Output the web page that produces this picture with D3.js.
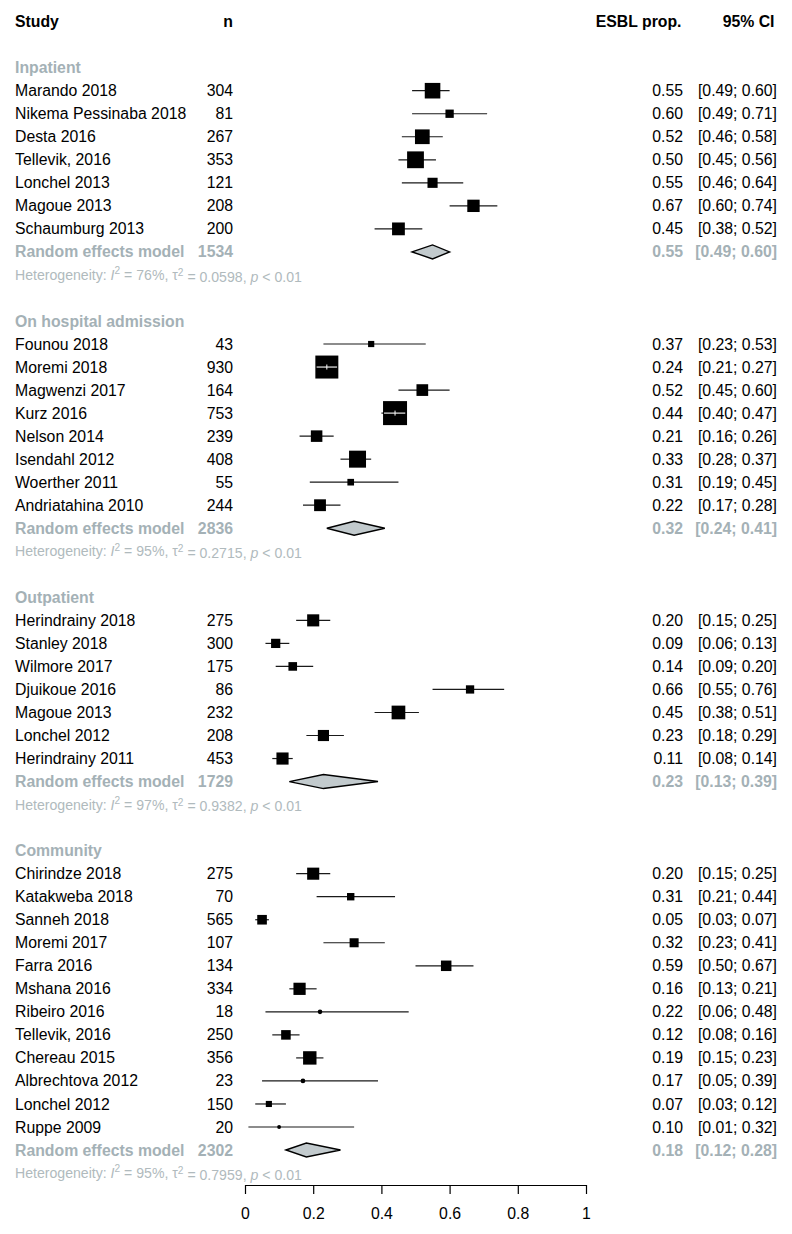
<!DOCTYPE html>
<html>
<head>
<meta charset="utf-8">
<script src="https://cdn.jsdelivr.net/npm/d3@7"></script>
<style>
  html, body { margin: 0; padding: 0; background: #fff; }
  svg { display: block; font-family: "Liberation Sans", Arial, Helvetica, sans-serif; }
</style>
</head>
<body>
<svg id="chart" width="792" height="1234"></svg>
<script>
// ---------------- DATA ----------------
const groups = ["Inpatient", "On hospital admission", "Outpatient", "Community"];

const studies = [
  "Marando 2018", "Nikema Pessinaba 2018", "Desta 2016", "Tellevik, 2016", "Lonchel 2013", "Magoue 2013", "Schaumburg 2013",
  "Founou 2018", "Moremi 2018", "Magwenzi 2017", "Kurz 2016", "Nelson 2014", "Isendahl 2012", "Woerther 2011", "Andriatahina 2010",
  "Herindrainy 2018", "Stanley 2018", "Wilmore 2017", "Djuikoue 2016", "Magoue 2013", "Lonchel 2012", "Herindrainy 2011",
  "Chirindze 2018", "Katakweba 2018", "Sanneh 2018", "Moremi 2017", "Farra 2016", "Mshana 2016", "Ribeiro 2016", "Tellevik, 2016", "Chereau 2015", "Albrechtova 2012", "Lonchel 2012", "Ruppe 2009"
];
const studyGroup = [
  0,0,0,0,0,0,0,
  1,1,1,1,1,1,1,1,
  2,2,2,2,2,2,2,
  3,3,3,3,3,3,3,3,3,3,3,3
];
const studyN = [
  304, 81, 267, 353, 121, 208, 200,
  43, 930, 164, 753, 239, 408, 55, 244,
  275, 300, 175, 86, 232, 208, 453,
  275, 70, 565, 107, 134, 334, 18, 250, 356, 23, 150, 20
];
const studyProp = [
  0.55, 0.60, 0.52, 0.50, 0.55, 0.67, 0.45,
  0.37, 0.24, 0.52, 0.44, 0.21, 0.33, 0.31, 0.22,
  0.20, 0.09, 0.14, 0.66, 0.45, 0.23, 0.11,
  0.20, 0.31, 0.05, 0.32, 0.59, 0.16, 0.22, 0.12, 0.19, 0.17, 0.07, 0.10
];
const studyLower = [
  0.49, 0.49, 0.46, 0.45, 0.46, 0.60, 0.38,
  0.23, 0.21, 0.45, 0.40, 0.16, 0.28, 0.19, 0.17,
  0.15, 0.06, 0.09, 0.55, 0.38, 0.18, 0.08,
  0.15, 0.21, 0.03, 0.23, 0.50, 0.13, 0.06, 0.08, 0.15, 0.05, 0.03, 0.01
];
const studyUpper = [
  0.60, 0.71, 0.58, 0.56, 0.64, 0.74, 0.52,
  0.53, 0.27, 0.60, 0.47, 0.26, 0.37, 0.45, 0.28,
  0.25, 0.13, 0.20, 0.76, 0.51, 0.29, 0.14,
  0.25, 0.44, 0.07, 0.41, 0.67, 0.21, 0.48, 0.16, 0.23, 0.39, 0.12, 0.32
];

// random effects model per group
const reN     = [1534, 2836, 1729, 2302];
const reProp  = [0.55, 0.32, 0.23, 0.18];
const reLower = [0.49, 0.24, 0.13, 0.12];
const reUpper = [0.60, 0.41, 0.39, 0.28];
const hetI2   = ["76%", "95%", "97%", "95%"];
const hetTau2 = ["0.0598", "0.2715", "0.9382", "0.7959"];
const hetP    = ["< 0.01", "< 0.01", "< 0.01", "< 0.01"];

const axisTicks = [0, 0.2, 0.4, 0.6, 0.8, 1];

// ---------------- LAYOUT ----------------
const svg = d3.select("#chart");
const FS = 15.8, FS_HET = 14.1;
const GRAY = "#a4b1b6", GRAY_HET = "#b0babd", DIAMOND = "#c2cacd";

const x = d3.scaleLinear().domain([0, 1]).range([245, 586]);
const yRow = d3.scaleLinear().domain([0, 45]).range([90.7, 1127]);

// build row list: first study of first group is row 0
const rows = [];
let rr = 0;
groups.forEach((g, gi) => {
  rows.push({type: "group", gi, row: rr - 1});
  studies.forEach((s, i) => {
    if (studyGroup[i] === gi) { rows.push({type: "study", i, row: rr}); rr++; }
  });
  rows.push({type: "re", gi, row: rr}); rr++;
  rows.push({type: "het", gi, row: rr}); rr++;
  rr += 2; // blank + next group label
});

const fmt = d3.format(".2f");
const ciText = (lo, hi) => "[" + fmt(lo) + "; " + fmt(hi) + "]";

// square size from inverse-variance (logit scale) weight n*p*(1-p)
const weights = studyN.map((n, i) => n * studyProp[i] * (1 - studyProp[i]));
const side = d3.scaleSqrt().domain([0, d3.max(weights)]).range([0.8, 24]);

const COL_STUDY = 15, COL_N = 233, COL_EST = 683, COL_CI = 777;

// headers
const yHead = yRow(-3);
const head = svg.append("g").attr("font-weight", "bold").attr("font-size", FS).attr("fill", "#000");
head.append("text").attr("x", COL_STUDY).attr("y", yHead).attr("dy", "0.35em").text("Study");
head.append("text").attr("x", COL_N).attr("y", yHead).attr("dy", "0.35em").attr("text-anchor", "end").text("n");
head.append("text").attr("x", COL_EST - 1.5).attr("y", yHead).attr("dy", "0.35em").attr("text-anchor", "end").text("ESBL prop.");
head.append("text").attr("x", COL_CI - 2.5).attr("y", yHead).attr("dy", "0.35em").attr("text-anchor", "end").text("95% CI");

const g = svg.append("g");

rows.forEach(d => {
  const y = yRow(d.row);
  if (d.type === "group") {
    g.append("text").attr("x", COL_STUDY).attr("y", y).attr("dy", "0.35em")
      .attr("font-size", FS).attr("font-weight", "bold").attr("fill", GRAY).text(groups[d.gi]);
  } else if (d.type === "study") {
    const i = d.i;
    g.append("text").attr("x", COL_STUDY).attr("y", y).attr("dy", "0.35em").attr("font-size", FS).attr("fill", "#000").text(studies[i]);
    g.append("text").attr("x", COL_N).attr("y", y).attr("dy", "0.35em").attr("text-anchor", "end").attr("font-size", FS).attr("fill", "#000").text(studyN[i]);
    g.append("text").attr("x", COL_EST).attr("y", y).attr("dy", "0.35em").attr("text-anchor", "end").attr("font-size", FS).attr("fill", "#000").text(fmt(studyProp[i]));
    g.append("text").attr("x", COL_CI).attr("y", y).attr("dy", "0.35em").attr("text-anchor", "end").attr("font-size", FS).attr("fill", "#000").text(ciText(studyLower[i], studyUpper[i]));
    const x0 = x(studyLower[i]), x1 = x(studyUpper[i]), xc = x(studyProp[i]);
    const s = Math.max(side(weights[i]), 3);
    g.append("line").attr("x1", x0).attr("x2", x1).attr("y1", y).attr("y2", y).attr("stroke", "#1a1a1a").attr("stroke-width", 1.2);
    if (s <= 4) {
      g.append("circle").attr("cx", xc).attr("cy", y).attr("r", s / 2 + 0.4).attr("fill", "#000");
    } else {
      g.append("rect").attr("x", xc - s / 2).attr("y", y - s / 2).attr("width", s).attr("height", s).attr("fill", "#000");
    }
    if ((x1 - x0) <= s + 2) {
      const a = Math.max(x0, xc - s / 2 + 1), b = Math.min(x1, xc + s / 2 - 1);
      g.append("line").attr("x1", a).attr("x2", b).attr("y1", y).attr("y2", y).attr("stroke", "#fff").attr("stroke-width", 1.1);
      g.append("line").attr("x1", xc).attr("x2", xc).attr("y1", y - 2.5).attr("y2", y + 2.5).attr("stroke", "#fff").attr("stroke-width", 1);
    }
  } else if (d.type === "re") {
    const gi = d.gi;
    const t = g.append("g").attr("font-size", FS).attr("font-weight", "bold").attr("fill", GRAY);
    t.append("text").attr("x", COL_STUDY).attr("y", y).attr("dy", "0.35em").text("Random effects model");
    t.append("text").attr("x", COL_N).attr("y", y).attr("dy", "0.35em").attr("text-anchor", "end").text(reN[gi]);
    t.append("text").attr("x", COL_EST).attr("y", y).attr("dy", "0.35em").attr("text-anchor", "end").text(fmt(reProp[gi]));
    t.append("text").attr("x", COL_CI).attr("y", y).attr("dy", "0.35em").attr("text-anchor", "end").text(ciText(reLower[gi], reUpper[gi]));
    const pts = [[x(reLower[gi]), y], [x(reProp[gi]), y - 7], [x(reUpper[gi]), y], [x(reProp[gi]), y + 7]];
    g.append("path").attr("d", d3.line()(pts) + "Z").attr("fill", DIAMOND).attr("stroke", "#000").attr("stroke-width", 1.4);
  } else if (d.type === "het") {
    const gi = d.gi;
    const t = g.append("text").attr("x", COL_STUDY).attr("y", y).attr("dy", "0.35em").attr("font-size", FS_HET).attr("fill", GRAY_HET);
    t.append("tspan").text("Heterogeneity: ");
    t.append("tspan").attr("font-style", "italic").text("I");
    t.append("tspan").attr("font-size", FS_HET * 0.72).attr("dy", "-0.55em").text("2");
    t.append("tspan").attr("dy", "0.4em").text(" = " + hetI2[gi] + ", \u03c4");
    t.append("tspan").attr("font-size", FS_HET * 0.72).attr("dy", "-0.4em").text("2");
    t.append("tspan").attr("dy", "0.4em").text(" = " + hetTau2[gi] + ", ");
    t.append("tspan").attr("font-style", "italic").text("p");
    t.append("tspan").text(" " + hetP[gi]);
  }
});

// axis
const axisY = 1185;
const axis = d3.axisBottom(x).tickValues(axisTicks).tickFormat(d => String(d)).tickSize(9).tickSizeOuter(0).tickPadding(14);
const ag = svg.append("g").attr("transform", `translate(0,${axisY})`).call(axis);
ag.select(".domain").attr("stroke", "#000").attr("stroke-width", 1.2);
ag.selectAll(".tick line").attr("stroke", "#000").attr("stroke-width", 1.2);
ag.selectAll(".tick text").attr("font-size", FS).attr("fill", "#000").attr("font-family", "Liberation Sans, Arial, sans-serif");
</script>
</body>
</html>
